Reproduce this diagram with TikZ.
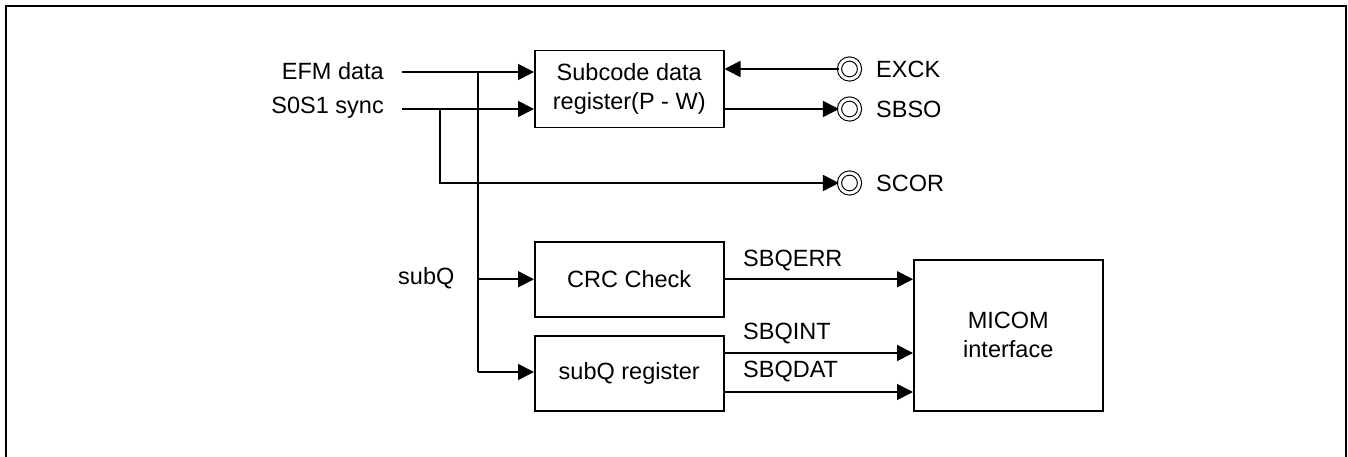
\documentclass[tikz,border=0pt]{standalone}
\usepackage{fontspec}
\setmainfont{Liberation Sans}
\usetikzlibrary{arrows.meta}
\begin{document}
\begin{tikzpicture}[x=1pt,y=-1pt,
  every node/.style={font=\fontsize{23.5}{29}\selectfont, inner sep=0pt},
  blk/.style={draw, line width=1.5pt, anchor=north west, align=center},
  wire/.style={line width=1.7pt},
  arr/.style={wire, -{Triangle[length=16pt,width=16pt]}},
  lbl/.style={anchor=west},
  pin/.style={circle, draw, double, line width=1.1pt, double distance=3pt, minimum size=20pt}]
\useasboundingbox (0,0) rectangle (1348,457);
\draw[line width=2.2pt] (6,470) -- (6,6) -- (1346,6) -- (1346,470);
% boxes
\node[blk, minimum width=189pt, minimum height=77pt] (sub) at (534,50) {Subcode data\\register(P - W)};
\node[blk, minimum width=189pt, minimum height=75pt] (crc) at (534,241) {CRC Check};
\node[blk, minimum width=189pt, minimum height=75pt] (sqr) at (534,335) {subQ register};
\node[blk, minimum width=189pt, minimum height=151pt] (mic) at (913,259) {MICOM\\interface};
% input labels
\node[anchor=east] (efm) at (384,71) {EFM data};
\node[anchor=east] (sync) at (384,108) {S0S1 sync};
\node[anchor=west] (subq) at (398,278) {subQ};
% pins
\node[pin] (exck) at (849.5,69) {};
\node[pin] (sbso) at (849.5,109) {};
\node[pin] (scor) at (849.5,183) {};
\node[lbl] (texck) at (876,69) {EXCK};
\node[lbl] (tsbso) at (876,109) {SBSO};
\node[lbl] (tscor) at (876,183) {SCOR};
% coordinates
\coordinate (efmS) at (402,72);
\coordinate (syncS) at (402,109);
\coordinate (j1) at (478,72);
\coordinate (j1b) at (478,372);
\coordinate (j2) at (440,109);
\coordinate (j2b) at (440,183);
% connectors
\draw[arr] (efmS) -- (efmS -| sub.west);
\draw[arr] (syncS) -- (syncS -| sub.west);
\draw[arr] (exck.west) -- (exck.west -| sub.east);
\draw[arr] (sbso.west -| sub.east) -- (sbso.west);
\draw[arr] (j2) -- (j2b) -- (scor.west);
\draw[wire] (j1) -- (j1b);
\draw[arr] (crc.west -| j1) -- (crc.west);
\draw[arr] (j1b) -- (j1b -| sqr.west);
\draw[arr] (crc.east) -- (crc.east -| mic.west);
\draw[arr] (723,353) -- (913,353);
\draw[arr] (723,392) -- (913,392);
% signal labels
\node[lbl] (lerr) at (743,261) {SBQERR};
\node[lbl] (lint) at (743,334) {SBQINT};
\node[lbl] (ldat) at (743,372) {SBQDAT};
\end{tikzpicture}
\end{document}
